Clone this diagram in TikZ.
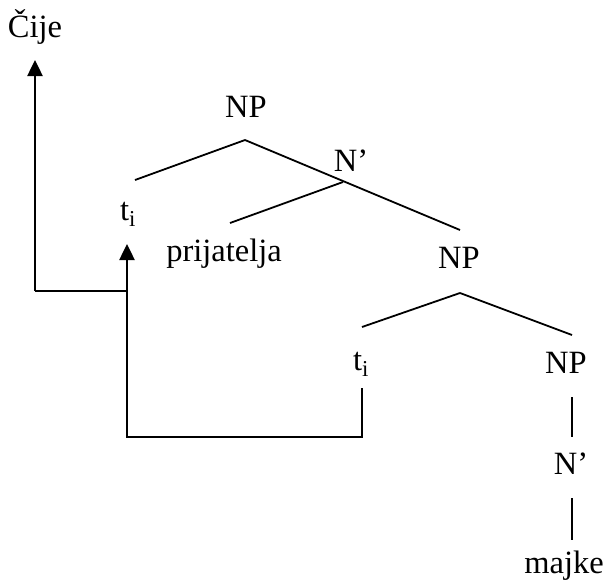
\documentclass[tikz,border=0pt]{standalone}
\usepackage{fontspec}
\setmainfont{Liberation Serif}
\usetikzlibrary{arrows.meta}
\begin{document}
\begin{tikzpicture}[x=1pt,y=-1pt,
  lbl/.style={anchor=base,inner sep=0pt,font=\fontsize{32.5}{38}\selectfont},
  branch/.style={line width=1.8pt},
  movearrow/.style={line width=2.5pt,-{Triangle[length=16pt,width=15pt]}},
  moveline/.style={line width=2.5pt}]
\useasboundingbox (0,0) rectangle (606,584);

% labels
\node[lbl] (cije)   at (35,37)   {Čije};
\node[lbl] (np1)    at (246,117) {NP};
\node[lbl] (t1)     at (128,220) {t\textsubscript{i}};
\node[lbl] (nbar1)  at (351,171) {N’};
\node[lbl] (prij)   at (224,261) {prijatelja};
\node[lbl] (np2)    at (459,268) {NP};
\node[lbl] (t2)     at (361,370) {t\textsubscript{i}};
\node[lbl] (np3)    at (566,373) {NP};
\node[lbl] (nbar2)  at (571,474) {N’};
\node[lbl] (majke)  at (564,573) {majke};

% tree junctions
\coordinate (np1b)   at (245,140);
\coordinate (t1a)    at (135,180);
\coordinate (np2a)   at (460,230);
\coordinate (nbar1b) at (343,182);
\coordinate (prija)  at (230,223);
\coordinate (np2b)   at (460,293);
\coordinate (t2a)    at (362,327);
\coordinate (np3a)   at (572,335);
\coordinate (np3b)   at (572,397);
\coordinate (nbar2a) at (572,437);
\coordinate (nbar2b) at (572,498);
\coordinate (majkea) at (572,540);

\draw[branch] (np1b) -- (t1a);
\draw[branch] (np1b) -- (np2a);
\draw[branch] (nbar1b) -- (prija);
\draw[branch] (np2b) -- (t2a);
\draw[branch] (np2b) -- (np3a);
\draw[branch] (np3b) -- (nbar2a);
\draw[branch] (nbar2b) -- (majkea);

% movement paths
\coordinate (cijetip) at (35,60);
\coordinate (lcorner) at (35,291);
\coordinate (ljoin)   at (127,291);
\coordinate (t1tip)   at (127,244);
\coordinate (bleft)   at (127,437);
\coordinate (bright)  at (362,437);
\coordinate (t2foot)  at (362,388);

\draw[moveline] (ljoin) -- (lcorner);
\draw[movearrow] (lcorner) -- (cijetip);
\draw[movearrow] (t2foot) -- (bright) -- (bleft) -- (t1tip);
\end{tikzpicture}
\end{document}
